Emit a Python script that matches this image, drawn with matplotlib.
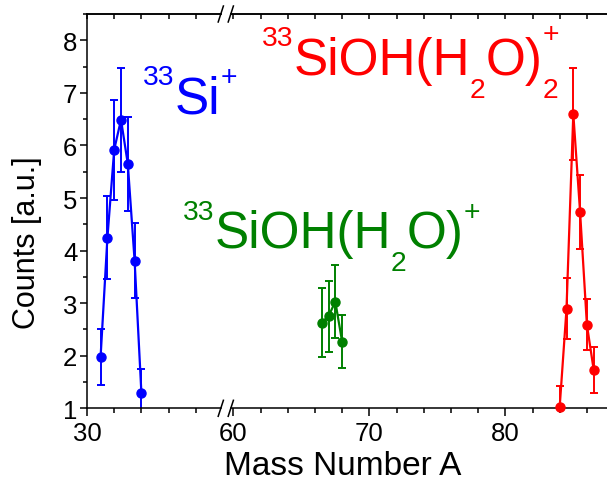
import numpy as np
import matplotlib
matplotlib.use('Agg')
import matplotlib.pyplot as plt
from matplotlib.ticker import MultipleLocator, FixedLocator
from matplotlib.transforms import IdentityTransform

plt.rcParams['font.family'] = 'Liberation Sans'

# --- data ---
si_mass = [31.0, 31.5, 32.0, 32.5, 33.0, 33.5, 34.0]
si_counts = [1.98, 4.24, 5.92, 6.49, 5.65, 3.81, 1.29]
si_err = [0.53, 0.79, 0.95, 0.99, 0.89, 0.71, 0.45]

h2o_mass = [66.5, 67.0, 67.5, 68.0]
h2o_counts = [2.63, 2.75, 3.03, 2.27]
h2o_err = [0.65, 0.68, 0.70, 0.51]

h2o2_mass = [84.0, 84.5, 85.0, 85.5, 86.0, 86.5]
h2o2_counts = [1.03, 2.89, 6.60, 4.73, 2.59, 1.73]
h2o2_err = [0.39, 0.58, 0.87, 0.70, 0.48, 0.43]

W, H = 607, 485
fig = plt.figure(figsize=(W / 100, H / 100), dpi=100)


def fx(px):
    return px / W


def fy(py):
    return 1 - py / H


top, bot = 15, 409.3
scale = 13.6  # px per mass unit
ax1 = fig.add_axes([fx(87), fy(bot), fx(221) - fx(87), fy(top) - fy(bot)])
ax2 = fig.add_axes([fx(231), fy(bot), fx(612) - fx(231), fy(top) - fy(bot)])
ax1.set_xlim(30, 30 + (221 - 87) / scale)
ax2.set_xlim(60 - (233.3 - 231) / scale, 60 + (612 - 233.3) / scale)


def draw(ax, x, y, e, c):
    ax.errorbar(x, y, yerr=e, color=c, lw=1.6, elinewidth=1.4,
                capsize=3, capthick=1.4)
    ax.plot(x, y, 'o', color=c, ms=6.5, clip_on=False, zorder=5)


draw(ax1, si_mass, si_counts, si_err, '#0000ff')
draw(ax2, h2o_mass, h2o_counts, h2o_err, '#008000')
draw(ax2, h2o2_mass, h2o2_counts, h2o2_err, '#ff0000')

for ax in (ax1, ax2):
    ax.set_ylim(1, 8.5)
    for sp in ax.spines.values():
        sp.set_linewidth(1.1)
    ax.tick_params(axis='x', which='major', direction='out', length=6,
                   width=1.1, labelsize=18.5, pad=3)
    ax.tick_params(axis='x', which='minor', direction='out', length=3.5, width=1.1)
    ax.xaxis.set_minor_locator(MultipleLocator(2))
    sec = ax.secondary_xaxis('top')
    sec.xaxis.set_major_locator(MultipleLocator(2))
    sec.tick_params(direction='in', length=3.5, width=1.1, labeltop=False)
    sec.spines['top'].set_linewidth(1.1)

ax1.spines['right'].set_visible(False)
ax2.spines['left'].set_visible(False)
ax2.spines['right'].set_visible(False)
ax1.xaxis.set_major_locator(FixedLocator([30]))
ax2.xaxis.set_major_locator(MultipleLocator(10))
ax1.yaxis.set_major_locator(MultipleLocator(1))
ax1.yaxis.set_minor_locator(MultipleLocator(0.5))
ax1.tick_params(axis='y', which='major', direction='out', length=5,
                width=1.1, labelsize=18.5, pad=2)
ax1.tick_params(axis='y', which='minor', direction='out', length=3, width=1.1)
ax2.tick_params(axis='y', which='both', left=False, labelleft=False)

# break marks
for yb in (top, bot):
    for xb in (220.8, 230.8):
        fig.add_artist(plt.Line2D([fx(xb - 2.6), fx(xb + 2.6)],
                                  [fy(yb + 8), fy(yb - 8)],
                                  transform=fig.transFigure, color='black', lw=1.1))

fig.text(fx(27), fy(243), 'Counts [a.u.]', rotation=90, fontsize=22,
         ha='center', va='center')
fig.text(fx(343), fy(467), 'Mass Number A', fontsize=24,
         ha='center', va='center')

# ion labels built piece by piece: (text, size factor, baseline shift in em, advance)
renderer = fig.canvas.get_renderer()


def label(x0, base, pieces, size, color):
    x = x0
    y = H - base
    em = size * 100 / 72
    for txt, fac, shift, advance in pieces:
        t = fig.text(x, y + shift * em, txt, fontsize=size * fac, color=color,
                     transform=IdentityTransform(), ha='left', va='baseline')
        bb = t.get_window_extent(renderer)
        if advance:
            x = bb.x1


sup, sub = 0.56, -0.45
fs = 37
label(143, 113.3, [('33', 0.55, sup, True), ('Si', 1, 0, True),
                   ('+', 0.55, sup, True)], fs, '#0000ff')
label(183, 248.3, [('33', 0.55, sup, True), ('SiOH(H', 1, 0, True),
                   ('2', 0.55, sub, True), ('O)', 1, 0, True),
                   ('+', 0.55, sup, True)], fs, '#008000')
label(262, 75, [('33', 0.55, sup, True), ('SiOH(H', 1, 0, True),
                ('2', 0.55, sub, True), ('O)', 1, 0, True),
                ('+', 0.55, sup + 0.08, False), ('2', 0.55, sub, True)], fs, '#ff0000')

fig.savefig('out.png', dpi=100)
